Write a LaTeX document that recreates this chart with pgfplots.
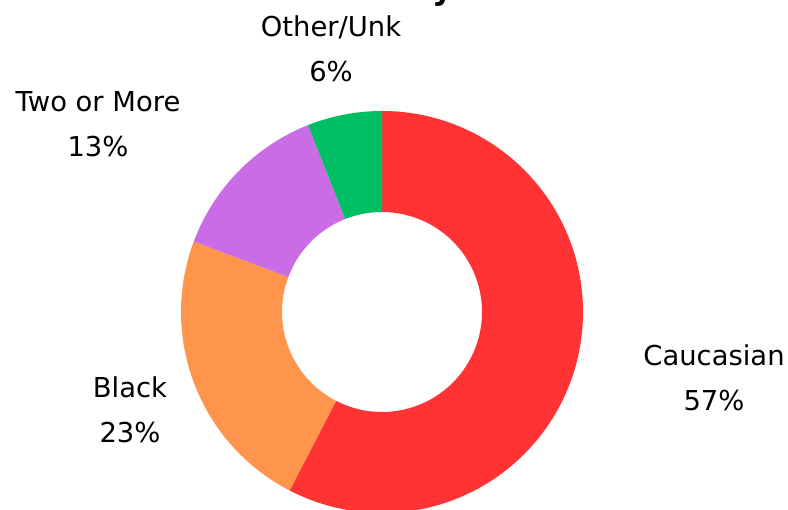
\documentclass[border=0pt]{standalone}
\usepackage{pgfplots}
\pgfplotsset{compat=1.18}
\usepackage{fontspec}
\setmainfont{DejaVu Sans}
\definecolor{cauc}{RGB}{255,51,51}
\definecolor{blk}{RGB}{255,148,77}
\definecolor{two}{RGB}{201,108,230}
\definecolor{oth}{RGB}{0,191,99}
% shares (percent), clockwise from 12 o'clock
\def\vA{57.6}\def\vB{23.1}\def\vC{13.3}\def\vD{6.0}
\pgfmathsetmacro\aA{90}
\pgfmathsetmacro\aB{\aA-3.6*\vA}
\pgfmathsetmacro\aC{\aB-3.6*\vB}
\pgfmathsetmacro\aD{\aC-3.6*\vC}
\pgfmathsetmacro\aE{\aD-3.6*\vD}
\newcommand\sector[3]{%
  \fill[#3] ([shift={(#1:201bp)}]axis cs:382,198) arc[start angle=#1, end angle=#2, radius=201bp]
   -- ([shift={(#2:100bp)}]axis cs:382,198) arc[start angle=#2, end angle=#1, radius=100bp] -- cycle;}
\begin{document}
\begin{tikzpicture}[x=1bp,y=1bp]
\clip (0,0) rectangle (788,510);
\begin{axis}[at={(0,0)},anchor=south west,scale only axis,width=788bp,height=510bp,
  xmin=0,xmax=788,ymin=0,ymax=510,axis lines=none,clip=false]
\sector{\aA}{\aB}{cauc}
\sector{\aB}{\aC}{blk}
\sector{\aC}{\aD}{two}
\sector{\aD}{\aE}{oth}
\node[anchor=base east,font=\fontsize{32}{38}\selectfont\bfseries] at (axis cs:457,510) {Ethnicity};
\begin{scope}[every node/.style={align=center,font=\fontsize{27.5}{45}\selectfont}]
\node at (axis cs:714,132) {Caucasian\\57\%};
\node at (axis cs:130,100) {Black\\23\%};
\node at (axis cs:98,386) {Two or More\\13\%};
\node at (axis cs:331,461) {Other/Unk\\6\%};
\end{scope}
\end{axis}
\end{tikzpicture}
\end{document}
